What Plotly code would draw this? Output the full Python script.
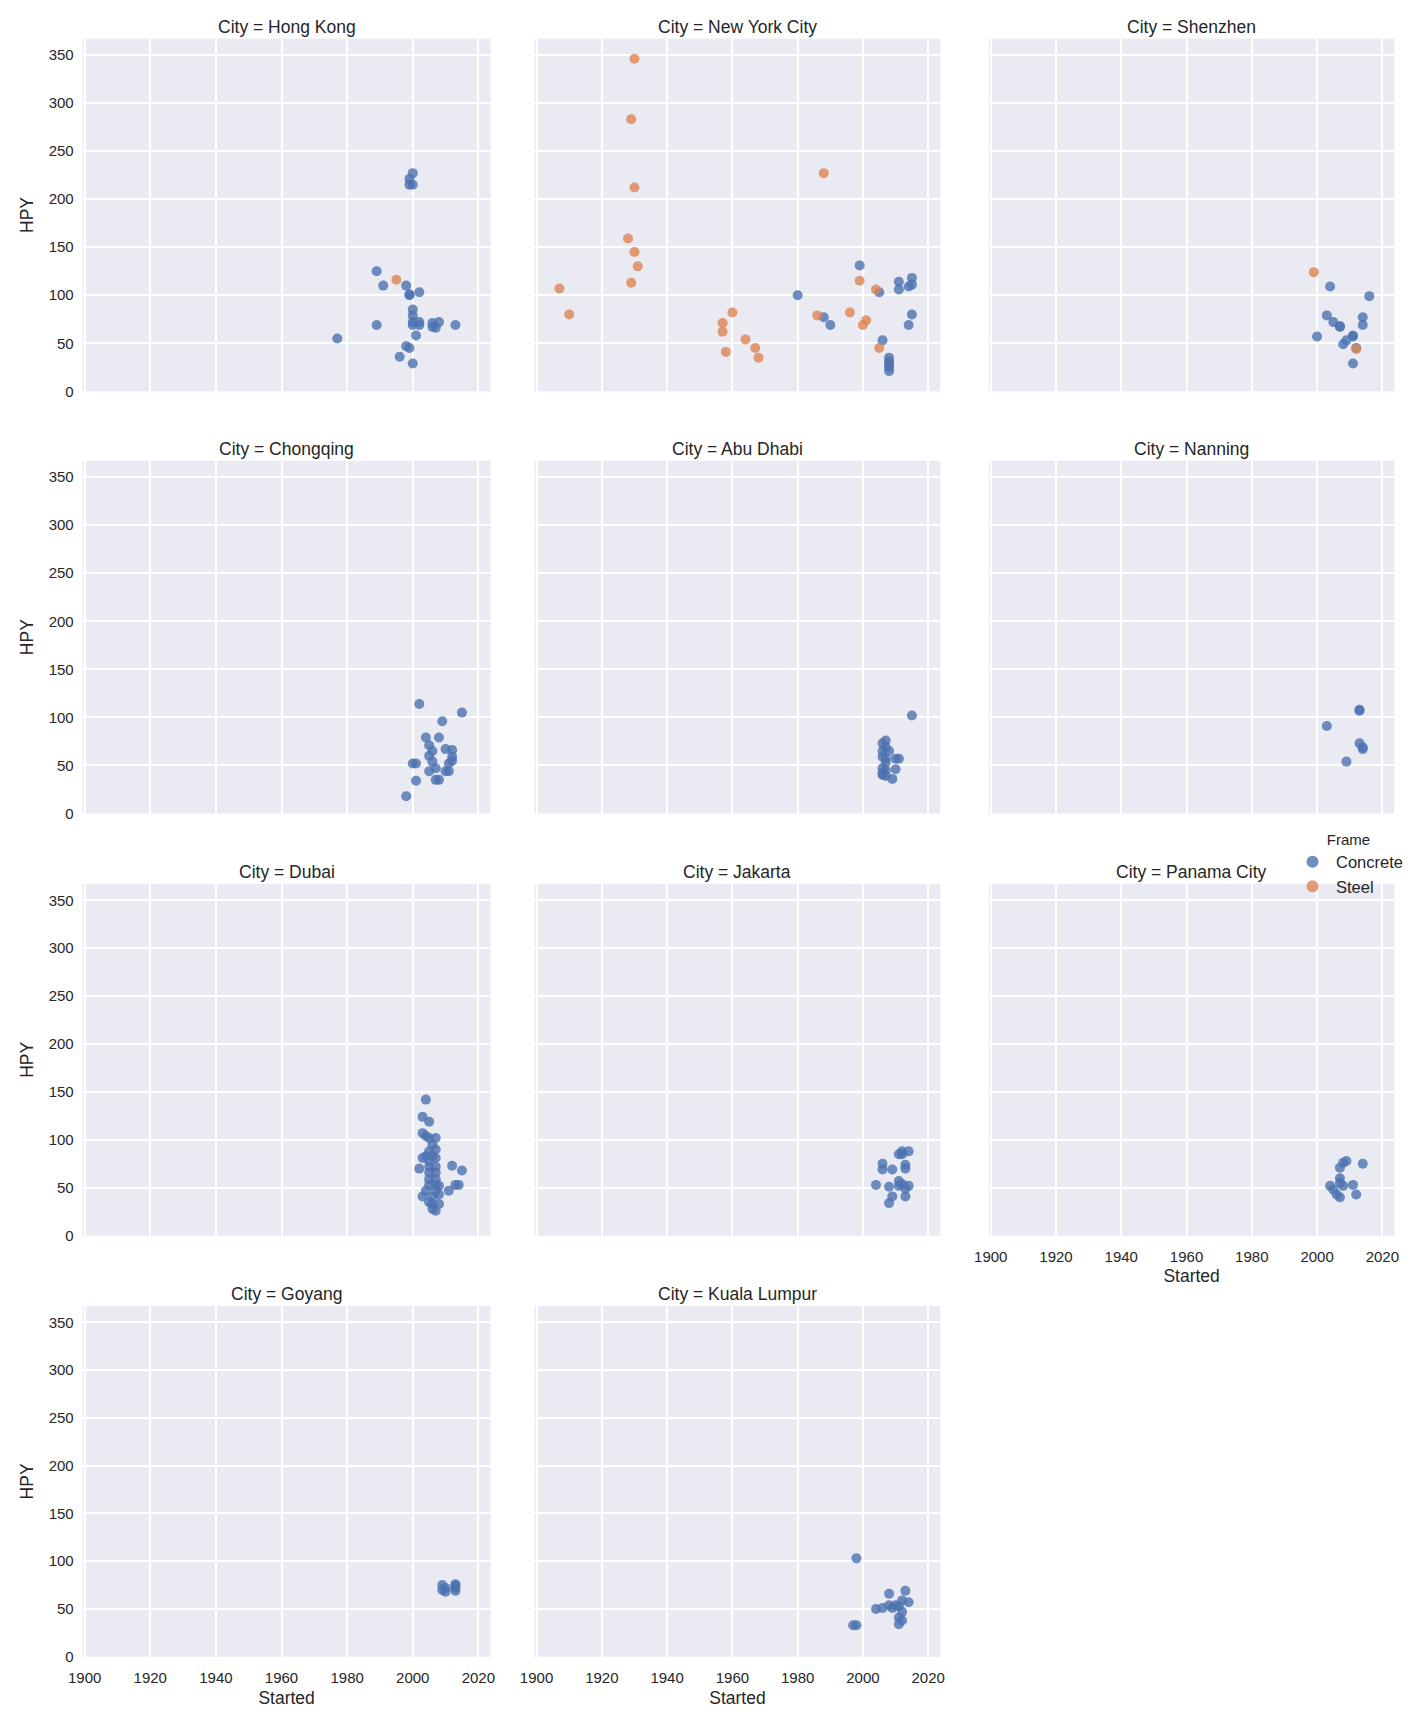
import plotly.graph_objects as go

# ---------------- data (Started year, HPY) ----------------
CITIES = ["Hong Kong", "New York City", "Shenzhen", "Chongqing", "Abu Dhabi",
          "Nanning", "Dubai", "Jakarta", "Panama City", "Goyang", "Kuala Lumpur"]

HONG_KONG_CONCRETE = [(2000, 227), (1999, 221), (1999, 215), (2000, 215), (1989, 125), (1991, 110),
                      (1998, 110), (2002, 103), (1999, 101), (1999, 100), (2000, 85), (2000, 79),
                      (1989, 69), (1977, 55), (2000, 72), (2002, 72), (2000, 69), (2002, 69),
                      (2006, 71), (2008, 72), (2006, 67), (2007, 66), (2013, 69), (2001, 58),
                      (1998, 47), (1999, 45), (1996, 36), (2000, 29)]
HONG_KONG_STEEL = [(1995, 116)]

NEW_YORK_CONCRETE = [(1980, 100), (1988, 77), (1990, 69), (1999, 131), (2005, 103), (2006, 53),
                     (2011, 114), (2011, 106), (2014, 109), (2015, 111), (2015, 118), (2015, 80),
                     (2014, 69), (2008, 35), (2008, 31), (2008, 28), (2008, 25), (2008, 21)]
NEW_YORK_STEEL = [(1930, 346), (1929, 283), (1930, 212), (1928, 159), (1930, 145), (1931, 130),
                  (1929, 113), (1907, 107), (1910, 80), (1960, 82), (1957, 71), (1957, 62),
                  (1958, 41), (1964, 54), (1967, 45), (1968, 35), (1988, 227), (1986, 79),
                  (1996, 82), (1999, 115), (2001, 74), (2000, 69), (2004, 106), (2005, 45)]

SHENZHEN_CONCRETE = [(2004, 109), (2016, 99), (2003, 79), (2005, 72), (2007, 68), (2007, 67),
                     (2014, 77), (2014, 69), (2000, 57), (2008, 49), (2009, 53), (2011, 57),
                     (2011, 58), (2012, 45), (2011, 29)]
SHENZHEN_STEEL = [(1999, 124), (2012, 44)]

CHONGQING_CONCRETE = [(2002, 114), (2015, 105), (2009, 96), (2004, 79), (2008, 79), (2005, 71),
                      (2006, 65), (2005, 60), (2010, 67), (2012, 66), (2012, 59), (2012, 55),
                      (2011, 52), (2006, 54), (2000, 52), (2001, 52), (2007, 47), (2005, 44),
                      (2010, 44), (2011, 44), (2001, 34), (2007, 35), (2008, 35), (1998, 18)]

ABU_DHABI_CONCRETE = [(2015, 102), (2007, 76), (2006, 73), (2007, 69), (2006, 65), (2008, 65),
                      (2006, 59), (2007, 57), (2010, 57), (2011, 57), (2007, 53), (2006, 47),
                      (2010, 46), (2007, 45), (2006, 42), (2007, 39), (2009, 36), (2006, 40)]

NANNING_CONCRETE = [(2013, 108), (2013, 107), (2003, 91), (2013, 73), (2014, 67), (2014, 69),
                    (2009, 54)]

DUBAI_CONCRETE = [(2004, 142), (2003, 124), (2005, 119), (2003, 107), (2004, 104), (2005, 102),
                  (2007, 102), (2007, 90), (2005, 88), (2004, 83), (2003, 81), (2006, 83),
                  (2007, 81), (2002, 70), (2012, 73), (2015, 68), (2005, 72), (2007, 72),
                  (2005, 66), (2007, 66), (2005, 59), (2007, 59), (2005, 53), (2007, 53),
                  (2008, 52), (2013, 53), (2014, 53), (2011, 47), (2004, 47), (2007, 47),
                  (2003, 41), (2006, 41), (2008, 43), (2005, 35), (2006, 33), (2008, 33),
                  (2006, 28), (2007, 26), (2005, 78), (2006, 95)]

JAKARTA_CONCRETE = [(2014, 88), (2012, 88), (2011, 85), (2012, 85), (2006, 75), (2006, 69),
                    (2009, 69), (2013, 74), (2013, 70), (2004, 53), (2008, 51), (2011, 57),
                    (2011, 52), (2012, 54), (2014, 52), (2013, 49), (2013, 41), (2009, 41),
                    (2008, 34)]

PANAMA_CONCRETE = [(2009, 78), (2008, 76), (2007, 71), (2014, 75), (2007, 60), (2007, 55),
                   (2008, 52), (2011, 53), (2004, 52), (2005, 48), (2006, 43), (2007, 40),
                   (2012, 43)]

GOYANG_CONCRETE = [(2009, 75), (2009, 70), (2010, 68), (2010, 72), (2013, 76), (2013, 72),
                   (2013, 74), (2013, 69)]

KUALA_LUMPUR_CONCRETE = [(1998, 103), (1997, 33), (1998, 33), (2008, 66), (2013, 69), (2012, 59),
                         (2014, 57), (2004, 50), (2006, 51), (2008, 54), (2009, 51), (2010, 54),
                         (2011, 53), (2012, 47), (2011, 41), (2012, 38), (2011, 34)]

CONCRETE = [HONG_KONG_CONCRETE, NEW_YORK_CONCRETE, SHENZHEN_CONCRETE, CHONGQING_CONCRETE,
            ABU_DHABI_CONCRETE, NANNING_CONCRETE, DUBAI_CONCRETE, JAKARTA_CONCRETE,
            PANAMA_CONCRETE, GOYANG_CONCRETE, KUALA_LUMPUR_CONCRETE]
STEEL = [HONG_KONG_STEEL, NEW_YORK_STEEL, SHENZHEN_STEEL, [], [], [], [], [], [], [], []]

X_TICKS = [1900, 1920, 1940, 1960, 1980, 2000, 2020]
Y_TICKS = [0, 50, 100, 150, 200, 250, 300, 350]

# ---------------- layout ----------------
W, H = 1422, 1728
OFF = 8  # page body margin
COL_PX = [(82.7, 490.5), (534.6, 940.3), (988.8, 1394.4)]
ROW_PX = [(38.6, 391.3), (460.8, 813.5), (884.0, 1235.7), (1306.0, 1656.8)]
BLUE = "#4C72B0"
ORANGE = "#DD8452"
TXT = "#262626"
FONT = "Liberation Sans, Arial, sans-serif"


def fx(px):
    return (px - OFF) / W


def fy(px):
    return 1 - (px - OFF) / H


fig = go.Figure()
layout = dict(
    width=W, height=H, margin=dict(l=0, r=0, t=0, b=0),
    paper_bgcolor="white", plot_bgcolor="#EAEAF2",
    font=dict(family=FONT, color=TXT, size=15),
    annotations=[],
)

bottom_index = {0: 9, 1: 10, 2: 8}
shown = {"Concrete": False, "Steel": False}

for i, city in enumerate(CITIES):
    r, c = divmod(i, 3)
    k = "" if i == 0 else str(i + 1)
    x0, x1 = COL_PX[c]
    y0, y1 = ROW_PX[r]
    is_bottom = bottom_index[c] == i
    is_left = c == 0

    layout["xaxis" + k] = dict(
        domain=[fx(x0), fx(x1)], anchor="y" + k, range=[1899.4, 2023.7],
        tickvals=X_TICKS, showticklabels=is_bottom, automargin=False,
        ticks="outside" if is_bottom else "", ticklen=7, tickcolor="rgba(0,0,0,0)",
        showgrid=True, gridcolor="white", gridwidth=1.5, zeroline=False, showline=False,
        tickfont=dict(size=15, color=TXT),
        title=dict(text="Started" if is_bottom else "", font=dict(size=17.5, color=TXT), standoff=6),
    )
    layout["yaxis" + k] = dict(
        domain=[fy(y1), fy(y0)], anchor="x" + k, range=[0, 367],
        tickvals=Y_TICKS, showticklabels=is_left, automargin=False,
        ticks="outside" if is_left else "", ticklen=5, tickcolor="rgba(0,0,0,0)",
        showgrid=True, gridcolor="white", gridwidth=1.5, zeroline=False, showline=False,
        tickfont=dict(size=15, color=TXT),
        title=dict(text="HPY" if is_left else "", font=dict(size=17.5, color=TXT), standoff=10),
    )
    layout["annotations"].append(dict(
        text="City = " + city, xref="paper", yref="paper",
        x=fx((x0 + x1) / 2), y=fy(y0), xanchor="center", yanchor="bottom",
        yshift=0, showarrow=False, font=dict(size=17.5, color=TXT, family=FONT),
    ))

    for name, data, color in (("Concrete", CONCRETE[i], BLUE), ("Steel", STEEL[i], ORANGE)):
        if not data:
            continue
        xs = [p[0] for p in data]
        ys = [p[1] for p in data]
        fig.add_trace(go.Scatter(
            x=xs, y=ys, mode="markers", name=name,
            showlegend=not shown[name],
            marker=dict(size=10, color=color, opacity=0.8, line=dict(width=0)),
            xaxis="x" + k, yaxis="y" + k,
        ))
        shown[name] = True

layout["legend"] = dict(
    x=fx(1289), y=fy(825), xanchor="left", yanchor="top",
    bgcolor="rgba(0,0,0,0)", borderwidth=0,
    title=dict(text="Frame", font=dict(size=15, color=TXT), side="top center"),
    font=dict(size=16.5, color=TXT), tracegroupgap=0, itemsizing="constant",
    itemwidth=37,
)

fig.update_layout(**layout)
fig.write_html("out.html")
